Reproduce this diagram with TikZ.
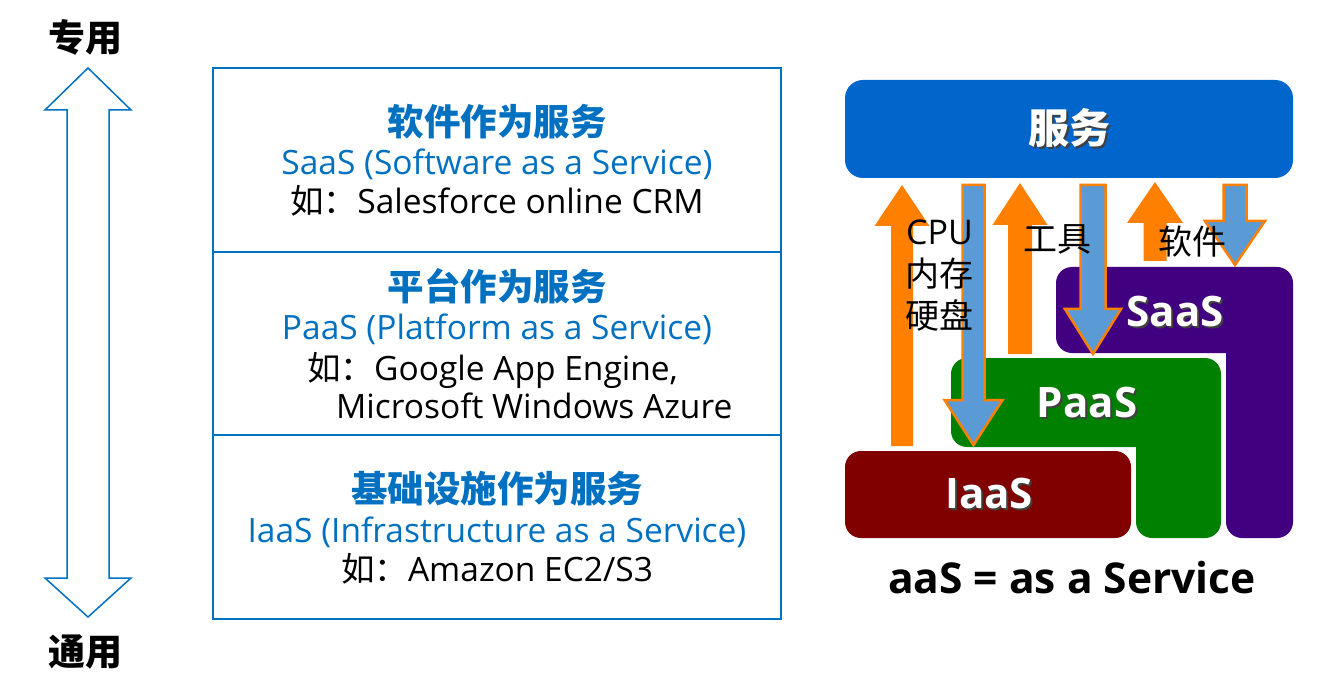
\documentclass[tikz,border=0pt]{standalone}
\usepackage{fontspec}
\setmainfont{Open Sans}
\newfontfamily\cjk{Noto Sans CJK SC}
\usetikzlibrary{positioning}
\definecolor{tblue}{RGB}{0,112,192}
\definecolor{sblue}{RGB}{0,102,204}
\definecolor{saasc}{RGB}{64,0,128}
\definecolor{paasc}{RGB}{0,128,0}
\definecolor{iaasc}{RGB}{128,0,0}
\definecolor{orng}{RGB}{255,128,0}
\definecolor{lblue}{RGB}{91,155,213}
% white text with a dark drop shadow
\newcommand\shtxt[1]{\makebox[0pt][l]{\hspace{2pt}\raisebox{-2pt}{\color{black!75}#1}}#1}
% block arrows: tip x, tip y, wing y, half head, half shaft, end y
\newcommand\upblk[6]{\fill[orng] (#1,#2) -- ({#1+#4},#3) -- ({#1+#5},#3) -- ({#1+#5},#6) -- ({#1-#5},#6) -- ({#1-#5},#3) -- ({#1-#4},#3) -- cycle;}
\newcommand\downblk[6]{\filldraw[fill=lblue,draw=orng,line width=2.5pt,line join=miter] ({#1-#5},#2) -- ({#1+#5},#2) -- ({#1+#5},#3) -- ({#1+#4},#3) -- (#1,#6) -- ({#1-#4},#3) -- ({#1-#5},#3) -- cycle;}

\begin{document}
\begin{tikzpicture}[
  x=1pt,y=-1pt,
  inner sep=0pt,
  hd/.style={font=\cjk\bfseries\fontsize{36.5}{42}\selectfont,text=tblue,anchor=base},
  en/.style={font=\fontsize{33.5}{40}\selectfont,text=tblue,anchor=base},
  eg/.style={font=\fontsize{33.5}{40}\selectfont,anchor=base},
  tier/.style={draw=tblue,line width=2.5pt,minimum width=568pt},
  big/.style={font=\bfseries\fontsize{42}{48}\selectfont,text=white},
  lbl/.style={font=\fontsize{34}{40}\selectfont},
  side/.style={font=\cjk\bfseries\fontsize{37}{42}\selectfont}
]
\useasboundingbox (0,0) rectangle (1320,676);

% left scale
\node[side] (dedicated) at (85,37) {专用};
\node[side] (general) at (85,652) {通用};
\draw[tblue,line width=1.5pt] (88,68) -- (131,110) -- (109,110) -- (109,578) -- (131,578) -- (88,617)
  -- (45,578) -- (67,578) -- (67,110) -- (45,110) -- cycle;

% three tiers
\node[tier,minimum height=184pt] (rsaas) at (497,160) {};
\node[tier,minimum height=183pt] (rpaas) at (497,343.5) {};
\node[tier,minimum height=184pt] (riaas) at (497,527) {};

\node[hd] (h1) at (497,136) {软件作为服务};
\node[en] (e1) at ([yshift=-39pt]h1.base) {SaaS (Software as a Service)};
\node[eg] (x1) at ([yshift=-39pt]e1.base) {{\cjk 如：}Salesforce online CRM};

\node[hd] (h2) at (497,301) {平台作为服务};
\node[en] (e2) at ([yshift=-39pt]h2.base) {PaaS (Platform as a Service)};
\node[eg,anchor=base west] (x2) at (307,380) {{\cjk 如：}Google App Engine,};
\node[eg,anchor=base west] (x2b) at (336,418) {Microsoft Windows Azure};

\node[hd] (h3) at (497,502) {基础设施作为服务};
\node[en] (e3) at ([yshift=-40pt]h3.base) {IaaS (Infrastructure as a Service)};
\node[eg] (x3) at ([yshift=-39pt]e3.base) {{\cjk 如：}Amazon EC2/S3};

% right: layered stack
\node[fill=sblue,rounded corners=18pt,minimum width=448pt,minimum height=98pt,
  font=\cjk\bfseries\fontsize{41}{46}\selectfont,text=white] (svc) at (1069,129) {\shtxt{服务}};

\fill[saasc,rounded corners=16pt] (1056,267) -- (1293,267) -- (1293,538) -- (1226,538)
  [sharp corners] -- (1226,353) [rounded corners=16pt] -- (1056,353) -- cycle;
\fill[paasc,rounded corners=16pt] (951,358) -- (1221,358) -- (1221,538) -- (1136,538)
  [sharp corners] -- (1136,447) [rounded corners=16pt] -- (951,447) -- cycle;
\node[fill=iaasc,rounded corners=16pt,minimum width=286pt,minimum height=87pt] (iaasbox) at (988,494.5) {};

\node[big] (saas) at (1175,312) {\shtxt{SaaS}};
\node[big] (paas) at (1087,403) {\shtxt{PaaS}};
\node[big] (iaas) at (989,494) {\shtxt{IaaS}};

% resources up, services down
\upblk{902}{185}{226}{27.5}{11}{446}
\upblk{1020}{183}{225}{27.5}{12}{354}
\upblk{1155}{182}{223}{28}{11.5}{261}
\downblk{973.5}{185}{400}{29}{11}{445}
\downblk{1093}{185}{309}{28}{12.5}{354}
\downblk{1235}{185}{221}{30}{11.5}{265}

\node[lbl,anchor=west] (cpu) at (906,232) {CPU};
\node[lbl,anchor=west,font=\cjk\fontsize{34}{40}\selectfont] (mem) at (905,274) {内存};
\node[lbl,anchor=west,font=\cjk\fontsize{34}{40}\selectfont] (disk) at (905,315) {硬盘};
\node[lbl,font=\cjk\fontsize{34}{40}\selectfont] (tools) at (1057,239) {工具};
\node[lbl,font=\cjk\fontsize{34}{40}\selectfont] (soft) at (1192,242) {软件};

\node[font=\bfseries\fontsize{42.5}{48}\selectfont] (note) at (1072,578) {aaS = as a Service};
\end{tikzpicture}
\end{document}
